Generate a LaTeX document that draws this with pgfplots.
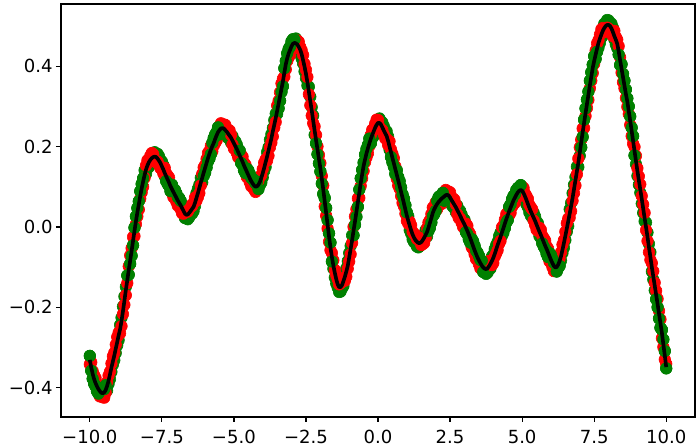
\documentclass[border=0pt]{standalone}
\usepackage{fontspec}
\setmainfont{DejaVu Sans}
\usepackage{pgfplots}
\usepackage{pgfplotstable}
\pgfplotsset{compat=1.18}
\definecolor{mgreen}{RGB}{0,128,0}
\pgfplotstableread{
x y r g
-10.00 -0.331 -0.342 -0.321
-9.95 -0.350 -0.337 -0.358
-9.90 -0.366 -0.359 -0.378
-9.85 -0.379 -0.369 -0.390
-9.80 -0.389 -0.376 -0.397
-9.75 -0.397 -0.390 -0.409
-9.70 -0.404 -0.394 -0.415
-9.65 -0.409 -0.422 -0.401
-9.60 -0.413 -0.420 -0.401
-9.55 -0.414 -0.424 -0.403
-9.50 -0.412 -0.425 -0.404
-9.45 -0.406 -0.413 -0.394
-9.40 -0.396 -0.386 -0.407
-9.35 -0.383 -0.370 -0.391
-9.30 -0.367 -0.360 -0.379
-9.25 -0.350 -0.340 -0.361
-9.20 -0.335 -0.322 -0.343
-9.15 -0.320 -0.313 -0.332
-9.10 -0.303 -0.293 -0.314
-9.05 -0.287 -0.274 -0.295
-9.00 -0.270 -0.263 -0.282
-8.95 -0.255 -0.265 -0.244
-8.90 -0.234 -0.247 -0.226
-8.85 -0.210 -0.217 -0.198
-8.80 -0.184 -0.194 -0.173
-8.75 -0.157 -0.170 -0.149
-8.70 -0.133 -0.140 -0.121
-8.65 -0.108 -0.098 -0.119
-8.60 -0.084 -0.071 -0.092
-8.55 -0.060 -0.053 -0.072
-8.50 -0.035 -0.025 -0.046
-8.45 -0.010 -0.023 -0.002
-8.40 0.014 0.007 0.026
-8.35 0.036 0.026 0.047
-8.30 0.056 0.043 0.064
-8.25 0.077 0.070 0.089
-8.20 0.096 0.086 0.107
-8.15 0.113 0.100 0.121
-8.10 0.129 0.122 0.141
-8.05 0.143 0.153 0.132
-8.00 0.153 0.166 0.145
-7.95 0.161 0.168 0.149
-7.90 0.167 0.177 0.156
-7.85 0.171 0.184 0.163
-7.80 0.174 0.181 0.162
-7.75 0.175 0.165 0.186
-7.70 0.174 0.161 0.182
-7.65 0.170 0.163 0.182
-7.60 0.165 0.155 0.176
-7.55 0.159 0.146 0.167
-7.50 0.151 0.144 0.163
-7.45 0.143 0.133 0.154
-7.40 0.134 0.147 0.126
-7.35 0.126 0.133 0.114
-7.30 0.118 0.128 0.107
-7.25 0.110 0.123 0.102
-7.20 0.101 0.108 0.089
-7.15 0.094 0.084 0.105
-7.10 0.087 0.074 0.095
-7.05 0.080 0.073 0.092
-7.00 0.073 0.063 0.084
-6.95 0.066 0.053 0.074
-6.90 0.060 0.053 0.072
-6.85 0.054 0.044 0.065
-6.80 0.047 0.034 0.055
-6.75 0.040 0.033 0.052
-6.70 0.033 0.043 0.022
-6.65 0.030 0.043 0.022
-6.60 0.031 0.038 0.019
-6.55 0.035 0.045 0.024
-6.50 0.040 0.053 0.032
-6.45 0.045 0.052 0.033
-6.40 0.050 0.060 0.039
-6.35 0.060 0.073 0.052
-6.30 0.072 0.065 0.084
-6.25 0.084 0.074 0.095
-6.20 0.097 0.084 0.105
-6.15 0.110 0.103 0.122
-6.10 0.122 0.132 0.111
-6.05 0.135 0.148 0.127
-6.00 0.147 0.154 0.135
-5.95 0.159 0.169 0.148
-5.90 0.171 0.184 0.163
-5.85 0.182 0.189 0.170
-5.80 0.192 0.202 0.181
-5.75 0.201 0.188 0.209
-5.70 0.209 0.202 0.221
-5.65 0.219 0.209 0.230
-5.60 0.228 0.215 0.236
-5.55 0.236 0.229 0.248
-5.50 0.241 0.251 0.230
-5.45 0.245 0.258 0.237
-5.40 0.246 0.253 0.234
-5.35 0.245 0.255 0.234
-5.30 0.241 0.254 0.233
-5.25 0.237 0.244 0.225
-5.20 0.232 0.242 0.221
-5.15 0.227 0.240 0.219
-5.10 0.222 0.229 0.210
-5.05 0.215 0.205 0.226
-5.00 0.208 0.195 0.216
-4.95 0.201 0.194 0.213
-4.90 0.194 0.184 0.205
-4.85 0.186 0.173 0.194
-4.80 0.178 0.171 0.190
-4.75 0.170 0.180 0.159
-4.70 0.162 0.175 0.154
-4.65 0.153 0.160 0.141
-4.60 0.145 0.155 0.134
-4.55 0.137 0.124 0.145
-4.50 0.129 0.122 0.141
-4.45 0.121 0.111 0.132
-4.40 0.114 0.101 0.122
-4.35 0.108 0.101 0.120
-4.30 0.103 0.093 0.114
-4.25 0.100 0.087 0.108
-4.20 0.101 0.094 0.113
-4.15 0.105 0.115 0.094
-4.10 0.112 0.125 0.104
-4.05 0.122 0.129 0.110
-4.00 0.134 0.144 0.123
-3.95 0.147 0.160 0.139
-3.90 0.161 0.168 0.149
-3.85 0.175 0.165 0.186
-3.80 0.190 0.177 0.198
-3.75 0.205 0.198 0.217
-3.70 0.220 0.210 0.231
-3.65 0.238 0.225 0.246
-3.60 0.254 0.247 0.266
-3.55 0.271 0.261 0.282
-3.50 0.289 0.302 0.281
-3.45 0.307 0.314 0.295
-3.40 0.325 0.335 0.314
-3.35 0.344 0.357 0.336
-3.30 0.362 0.369 0.350
-3.25 0.384 0.374 0.395
-3.20 0.405 0.392 0.413
-3.15 0.420 0.413 0.432
-3.10 0.432 0.422 0.443
-3.05 0.441 0.428 0.449
-3.00 0.450 0.443 0.462
-2.95 0.456 0.446 0.467
-2.90 0.458 0.445 0.466
-2.85 0.457 0.450 0.469
-2.80 0.454 0.464 0.443
-2.75 0.448 0.461 0.440
-2.70 0.441 0.448 0.429
-2.65 0.430 0.440 0.419
-2.60 0.415 0.428 0.407
-2.55 0.399 0.406 0.387
-2.50 0.381 0.391 0.370
-2.45 0.360 0.373 0.352
-2.40 0.337 0.330 0.349
-2.35 0.313 0.303 0.324
-2.30 0.290 0.277 0.298
-2.25 0.265 0.258 0.277
-2.20 0.240 0.250 0.229
-2.15 0.216 0.229 0.208
-2.10 0.193 0.200 0.181
-2.05 0.169 0.179 0.158
-2.00 0.146 0.159 0.138
-1.95 0.120 0.127 0.108
-1.90 0.093 0.103 0.082
-1.85 0.064 0.051 0.072
-1.80 0.035 0.028 0.047
-1.75 0.006 -0.004 0.017
-1.70 -0.024 -0.037 -0.016
-1.65 -0.051 -0.058 -0.039
-1.60 -0.075 -0.065 -0.086
-1.55 -0.096 -0.083 -0.104
-1.50 -0.114 -0.107 -0.126
-1.45 -0.130 -0.120 -0.141
-1.40 -0.143 -0.130 -0.151
-1.35 -0.150 -0.143 -0.162
-1.30 -0.150 -0.140 -0.161
-1.25 -0.145 -0.132 -0.153
-1.20 -0.135 -0.128 -0.147
-1.15 -0.124 -0.134 -0.113
-1.10 -0.111 -0.124 -0.103
-1.05 -0.097 -0.104 -0.085
-1.00 -0.076 -0.086 -0.065
-0.95 -0.055 -0.068 -0.047
-0.90 -0.033 -0.040 -0.021
-0.85 -0.010 0.000 -0.021
-0.80 0.013 0.026 0.005
-0.75 0.037 0.044 0.025
-0.70 0.061 0.071 0.050
-0.65 0.085 0.072 0.093
-0.60 0.109 0.102 0.121
-0.55 0.131 0.121 0.142
-0.50 0.152 0.139 0.160
-0.45 0.168 0.161 0.180
-0.40 0.183 0.173 0.194
-0.35 0.196 0.183 0.204
-0.30 0.208 0.201 0.220
-0.25 0.219 0.229 0.208
-0.20 0.229 0.242 0.221
-0.15 0.238 0.245 0.226
-0.10 0.247 0.257 0.236
-0.05 0.254 0.267 0.246
0.00 0.259 0.266 0.247
0.05 0.259 0.249 0.270
0.10 0.255 0.242 0.263
0.15 0.248 0.241 0.260
0.20 0.240 0.230 0.251
0.25 0.233 0.220 0.241
0.30 0.226 0.219 0.238
0.35 0.214 0.204 0.225
0.40 0.200 0.213 0.192
0.45 0.186 0.193 0.174
0.50 0.172 0.182 0.161
0.55 0.158 0.171 0.150
0.60 0.144 0.151 0.132
0.65 0.130 0.120 0.141
0.70 0.116 0.103 0.124
0.75 0.102 0.095 0.114
0.80 0.087 0.077 0.098
0.85 0.073 0.060 0.081
0.90 0.058 0.051 0.070
0.95 0.043 0.033 0.054
1.00 0.028 0.015 0.036
1.05 0.015 0.008 0.027
1.10 0.003 0.013 -0.008
1.15 -0.009 0.004 -0.017
1.20 -0.019 -0.012 -0.031
1.25 -0.027 -0.017 -0.038
1.30 -0.033 -0.020 -0.041
1.35 -0.037 -0.030 -0.049
1.40 -0.040 -0.030 -0.051
1.45 -0.040 -0.027 -0.048
1.50 -0.038 -0.045 -0.026
1.55 -0.033 -0.043 -0.022
1.60 -0.027 -0.040 -0.019
1.65 -0.020 -0.027 -0.008
1.70 -0.013 -0.003 -0.024
1.75 -0.002 0.011 -0.010
1.80 0.010 0.017 -0.002
1.85 0.022 0.032 0.011
1.90 0.035 0.048 0.027
1.95 0.044 0.051 0.032
2.00 0.051 0.061 0.040
2.05 0.057 0.044 0.065
2.10 0.062 0.055 0.074
2.15 0.066 0.056 0.077
2.20 0.070 0.057 0.078
2.25 0.073 0.066 0.085
2.30 0.076 0.086 0.065
2.35 0.079 0.092 0.071
2.40 0.080 0.087 0.068
2.45 0.078 0.088 0.067
2.50 0.073 0.086 0.065
2.55 0.067 0.074 0.055
2.60 0.061 0.071 0.050
2.65 0.055 0.068 0.047
2.70 0.049 0.056 0.037
2.75 0.042 0.032 0.053
2.80 0.035 0.022 0.043
2.85 0.028 0.021 0.040
2.90 0.020 0.010 0.031
2.95 0.013 0.000 0.021
3.00 0.006 -0.001 0.018
3.05 -0.002 0.008 -0.013
3.10 -0.010 0.003 -0.018
3.15 -0.019 -0.012 -0.031
3.20 -0.028 -0.018 -0.039
3.25 -0.038 -0.051 -0.030
3.30 -0.048 -0.055 -0.036
3.35 -0.058 -0.068 -0.047
3.40 -0.067 -0.080 -0.059
3.45 -0.076 -0.083 -0.064
3.50 -0.083 -0.093 -0.072
3.55 -0.090 -0.103 -0.082
3.60 -0.096 -0.103 -0.084
3.65 -0.101 -0.091 -0.112
3.70 -0.104 -0.091 -0.112
3.75 -0.105 -0.098 -0.117
3.80 -0.103 -0.093 -0.114
3.85 -0.098 -0.085 -0.106
3.90 -0.092 -0.085 -0.104
3.95 -0.085 -0.095 -0.074
4.00 -0.077 -0.090 -0.069
4.05 -0.067 -0.074 -0.055
4.10 -0.056 -0.066 -0.045
4.15 -0.045 -0.058 -0.037
4.20 -0.035 -0.042 -0.023
4.25 -0.025 -0.035 -0.014
4.30 -0.014 -0.001 -0.022
4.35 -0.003 0.004 -0.015
4.40 0.008 0.018 -0.003
4.45 0.019 0.032 0.011
4.50 0.029 0.036 0.017
4.55 0.039 0.029 0.050
4.60 0.048 0.035 0.056
4.65 0.057 0.050 0.069
4.70 0.066 0.056 0.077
4.75 0.073 0.060 0.081
4.80 0.080 0.073 0.092
4.85 0.086 0.076 0.097
4.90 0.090 0.077 0.098
4.95 0.092 0.085 0.104
5.00 0.090 0.100 0.079
5.05 0.084 0.097 0.076
5.10 0.076 0.083 0.064
5.15 0.067 0.077 0.056
5.20 0.057 0.070 0.049
5.25 0.048 0.055 0.036
5.30 0.039 0.049 0.028
5.35 0.031 0.044 0.023
5.40 0.023 0.016 0.035
5.45 0.015 0.005 0.026
5.50 0.006 -0.007 0.014
5.55 -0.003 -0.010 0.009
5.60 -0.012 -0.002 -0.023
5.65 -0.020 -0.007 -0.028
5.70 -0.029 -0.022 -0.041
5.75 -0.038 -0.028 -0.049
5.80 -0.047 -0.034 -0.055
5.85 -0.055 -0.048 -0.067
5.90 -0.064 -0.054 -0.075
5.95 -0.073 -0.086 -0.065
6.00 -0.082 -0.089 -0.070
6.05 -0.090 -0.100 -0.079
6.10 -0.097 -0.110 -0.089
6.15 -0.101 -0.108 -0.089
6.20 -0.100 -0.090 -0.111
6.25 -0.094 -0.081 -0.102
6.30 -0.085 -0.078 -0.097
6.35 -0.073 -0.063 -0.084
6.40 -0.057 -0.044 -0.065
6.45 -0.040 -0.033 -0.052
6.50 -0.022 -0.012 -0.033
6.55 -0.004 0.009 -0.012
6.60 0.014 0.021 0.002
6.65 0.033 0.023 0.044
6.70 0.052 0.039 0.060
6.75 0.072 0.065 0.084
6.80 0.094 0.084 0.105
6.85 0.116 0.103 0.124
6.90 0.138 0.131 0.150
6.95 0.160 0.170 0.149
7.00 0.185 0.198 0.177
7.05 0.210 0.217 0.198
7.10 0.235 0.245 0.224
7.15 0.259 0.246 0.267
7.20 0.283 0.276 0.295
7.25 0.306 0.296 0.317
7.30 0.329 0.316 0.337
7.35 0.352 0.345 0.364
7.40 0.374 0.364 0.385
7.45 0.396 0.383 0.404
7.50 0.413 0.406 0.425
7.55 0.429 0.439 0.418
7.60 0.444 0.457 0.436
7.65 0.458 0.465 0.446
7.70 0.469 0.479 0.458
7.75 0.479 0.492 0.471
7.80 0.488 0.495 0.476
7.85 0.495 0.485 0.506
7.90 0.500 0.487 0.508
7.95 0.503 0.496 0.515
8.00 0.503 0.493 0.514
8.05 0.500 0.487 0.508
8.10 0.494 0.487 0.506
8.15 0.485 0.475 0.496
8.20 0.475 0.488 0.467
8.25 0.466 0.473 0.454
8.30 0.456 0.466 0.445
8.35 0.437 0.450 0.429
8.40 0.415 0.422 0.403
8.45 0.394 0.384 0.405
8.50 0.373 0.360 0.381
8.55 0.352 0.345 0.364
8.60 0.331 0.321 0.342
8.65 0.312 0.299 0.320
8.70 0.288 0.281 0.300
8.75 0.264 0.254 0.275
8.80 0.239 0.226 0.247
8.85 0.214 0.207 0.226
8.90 0.189 0.199 0.178
8.95 0.164 0.177 0.156
9.00 0.139 0.146 0.127
9.05 0.116 0.126 0.105
9.10 0.093 0.106 0.085
9.15 0.070 0.077 0.058
9.20 0.046 0.056 0.035
9.25 0.022 0.035 0.014
9.30 -0.001 -0.008 0.011
9.35 -0.025 -0.035 -0.014
9.40 -0.050 -0.063 -0.042
9.45 -0.075 -0.082 -0.063
9.50 -0.100 -0.090 -0.111
9.55 -0.123 -0.110 -0.131
9.60 -0.146 -0.139 -0.158
9.65 -0.169 -0.159 -0.180
9.70 -0.192 -0.179 -0.200
9.75 -0.216 -0.209 -0.228
9.80 -0.240 -0.230 -0.251
9.85 -0.264 -0.277 -0.256
9.90 -0.292 -0.299 -0.280
9.95 -0.320 -0.330 -0.309
10.00 -0.349 -0.341 -0.352
}\datatab
\begin{document}
\begin{tikzpicture}
\useasboundingbox (-40.2pt,-20.4pt) rectangle (420.5pt,274.8pt);
\begin{axis}[
  at={(0,0)}, anchor=south west,
  scale only axis, width=417.9pt, height=272.2pt,
  xmin=-11, xmax=11, ymin=-0.473, ymax=0.555,
  clip marker paths=true,
  xtick={-10,-7.5,-5,-2.5,0,2.5,5,7.5,10},
  xticklabels={−10.0,−7.5,−5.0,−2.5,0.0,2.5,5.0,7.5,10.0},
  ytick={-0.4,-0.2,0,0.2,0.4},
  yticklabels={−0.4,−0.2,0.0,0.2,0.4},
  tick align=outside, tick pos=left,
  major tick length=3.3pt,
  every tick/.style={black, line width=0.8pt},
  axis line style={black, line width=0.8pt},
  tick label style={font=\fontsize{11.9}{14}\selectfont, black},
  yticklabel style={inner sep=2pt},
  xticklabel style={inner sep=3pt, yshift=-2.2pt},
]
% green underneath everywhere
\addplot[only marks, mark=*, color=mgreen, mark size=3.8pt] table[x=x, y=g]{\datatab};
% red
\addplot[only marks, mark=*, color=red, mark size=3.8pt] table[x=x, y=r]{\datatab};
% green on top in alternating stretches
\addplot[only marks, mark=*, color=mgreen, mark size=3.8pt,
  skip coords between index={12}{26},
  skip coords between index={38}{53},
  skip coords between index={64}{79},
  skip coords between index={91}{104},
  skip coords between index={118}{131},
  skip coords between index={143}{157},
  skip coords between index={169}{183},
  skip coords between index={196}{209},
  skip coords between index={221}{235},
  skip coords between index={248}{261},
  skip coords between index={274}{288},
  skip coords between index={300}{314},
  skip coords between index={327}{341},
  skip coords between index={353}{367},
  skip coords between index={379}{393},
] table[x=x, y=g]{\datatab};
\addplot[black, line width=2.4pt, line join=round, mark=none] table[x=x, y=y]{\datatab};
\end{axis}
\end{tikzpicture}
\end{document}
